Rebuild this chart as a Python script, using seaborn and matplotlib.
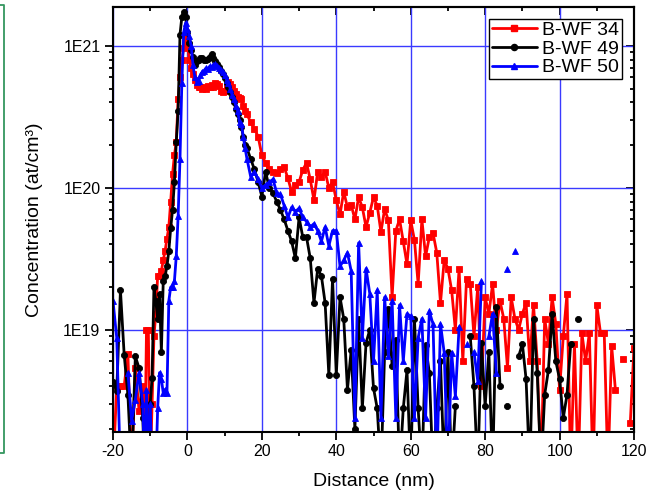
import numpy as np
import pandas as pd
import matplotlib
matplotlib.use("Agg")
import matplotlib.pyplot as plt
import seaborn as sns
from matplotlib.lines import Line2D
from matplotlib.ticker import MultipleLocator, LogLocator, FuncFormatter, NullFormatter

NA = float("nan")

# ---------------- data ----------------
depth = [
    -20, -19, -18, -17, -16, -15, -14, -13, -12,
    -11.5, -11, -10.5, -10, -9.5, -9, -8.5, -8, -7.5, -7,
    -6.5, -6, -5.5, -5, -4.5, -4, -3.5, -3, -2.5, -2,
    -1.5, -1, -0.5, 0, 0.5, 1, 1.5, 2, 2.5, 3,
    3.5, 4, 4.5, 5, 5.5, 6, 6.5, 7, 7.5, 8,
    8.5, 9, 9.5, 10, 10.5, 11, 11.5, 12, 12.5, 13,
    13.5, 14, 14.5, 15, 15.5, 16,
    17, 18, 19, 20, 21, 22, 23, 24, 25, 26,
    27, 28, 29, 30, 31, 32, 33, 34, 35, 36,
    37, 38, 39, 40, 41, 42, 43, 44, 45, 46,
    47, 48, 49, 50, 51, 52, 53, 54, 55, 56,
    57, 58, 59, 60, 61, 62, 63, 64, 65, 66,
    67, 68, 69, 70, 71, 72, 73, 74, 75, 76,
    77, 78, 79, 80, 81, 82, 83, 84, 85, 86,
    87, 88, 89, 90, 91, 92, 93, 94, 95, 96,
    97, 98, 99, 100, 101, 102, 103, 104, 105, 106,
    107, 108, 109, 110, 111, 112, 113, 114, 115, 116,
    117, 118, 119, 120,
]

bwf34 = [
    1e18, 4e18, 4e18, 4e18, 6.8e18, 1e18, 5.4e18, 2.7e18, 4e18,
    1e18, 1e19, 1e19, 1e18, 3e18, 9e18, 1.3e19, 2.4e19, 2.4e19, 2.6e19,
    3.1e19, 3.6e19, 4.4e19, 5.3e19, 8e19, 1.25e20, 1.7e20, 2.1e20, 4.2e20, 6e20,
    8e20, 9.6e20, 1.15e21, 1.05e21, 8e20, 7e20, 6.3e20, 5.8e20, 5.3e20, 5.1e20,
    5.1e20, 5.0e20, 5.1e20, 5.0e20, 5.2e20, 5.1e20, 5.3e20, 5.1e20, 5.5e20, 5.4e20,
    5.2e20, 4.8e20, 4.7e20, 4.8e20, 5.3e20, 5.6e20, 5.4e20, 5.1e20, 4.8e20, 4.6e20,
    4.4e20, 4.3e20, 4.2e20, 3.8e20, 3.5e20, 3.3e20,
    2.9e20, 2.6e20, 2.3e20, 1.7e20, 1.5e20, 1.35e20, 1.3e20, 1.28e20, 1.36e20, 1.4e20,
    1.17e20, 9.4e19, 1.05e20, 1.1e20, 1.34e20, 1.5e20, 1.15e20, 8.2e19, 1.3e20, 1.2e20,
    1.3e20, 1.0e20, 1.1e20, 8.2e19, 6.5e19, 9.4e19, 7.3e19, 7.6e19, 6.0e19, 8.6e19,
    7.3e19, 5.3e19, 6.7e19, 8.6e19, 7.5e19, 4.9e19, 7.1e19, 5.9e19, 1.7e19, 5.0e19,
    6.0e19, 4.2e19, 2.9e19, 5.9e19, 4.3e19, 2.1e19, 6.0e19, 3.3e19, 4.5e19, 4.8e19,
    3.5e19, 1.55e19, 3.1e19, 2.7e19, 1.9e19, 1.0e19, 2.7e19, 6.0e18, 2.3e19, 2.1e19,
    9.0e18, 2.0e19, 4.0e18, 1.7e19, 1.3e19, 2.1e19, 1.0e19, 1.6e19, 1.2e19, 5.4e18,
    1.7e19, 1.2e19, 1.0e19, 1.3e19, 1.55e19, 6.0e18, 1.5e19, 6.0e18, 1e18, 1.2e19,
    8.0e18, 1.7e19, 1.1e19, 3.8e18, 9.0e18, 1.8e19, 1e18, 8.0e18, 1e18, 9.5e18,
    6.0e18, 9.5e18, 1e18, 1.5e19, 9.5e18, 9.5e18, 1e18, 7.7e18, 3.8e18, NA,
    6.2e18, NA, 2.2e18, 7.5e18,
]

bwf49 = [
    4.3e18, 3.7e18, 1.9e19, 6.7e18, 3.5e18, 1e18, 6.5e18, 5.4e18, 2.4e18,
    1e18, 1e18, 1e18, 3e18, 4.6e18, 2e19, 1.6e19, 1.2e19, 1.8e19, 7e18,
    2.2e19, 2.4e19, 2.8e19, 3.6e19, 5.2e19, 7e19, 1.1e20, 2.1e20, 3.5e20, 1.2e21,
    1.6e21, 1.72e21, 1.6e21, 1.25e21, 1.05e21, 9.4e20, 8.3e20, 7.3e20, 7.8e20, 8.0e20,
    8.2e20, 8.2e20, 7.9e20, 8.0e20, 8.1e20, 8.4e20, 8.8e20, 8.2e20, 7.8e20, 7.5e20,
    7.1e20, 6.7e20, 6.3e20, 5.9e20, 5.5e20, 5.1e20, 4.7e20, 4.4e20, 4.0e20, 3.6e20,
    3.3e20, 3.0e20, 2.7e20, 2.3e20, 2.0e20, 1.9e20,
    1.6e20, 1.35e20, 1.1e20, 8.7e19, 1.3e20, 1.0e20, 9.2e19, 8.0e19, 7.0e19, 6.0e19,
    5.0e19, 4.2e19, 3.2e19, 6.2e19, 4.5e19, 4.5e19, 3.2e19, 1.55e19, 2.7e19, 2.4e19,
    1.55e19, 4.8e18, 2.3e19, 4.8e18, 1.7e19, 1.2e19, 3.8e18, 7.2e18, 2.0e18, 1.2e19,
    2.8e18, 8.1e18, 1.0e19, 3.9e18, 2.8e18, 1e18, 7.0e18, 1.4e19, 5.6e18, 8.5e18,
    1e18, 2.8e18, 5.2e18, 1e18, 1.2e19, 2.8e18, 1e18, 7.8e18, 5.0e18, 1e18,
    2.8e18, 6.0e18, 1e18, 7.0e18, 1e18, 2.9e18, NA, NA, NA, 9.0e18,
    4.0e18, 1e18, 8.1e18, 2.9e18, 7.0e18, 1e18, 1.45e19, 4.0e18, NA, 2.9e18,
    NA, NA, 6.5e18, 8.0e18, 4.5e18, 1e18, 1.2e19, 5.0e18, 1e18, 3.5e18,
    5.2e18, 1.3e19, 6.0e18, 4.5e18, 2.4e18, 3.5e18, 8.0e18, NA, 1.2e19, NA,
    NA, NA, NA, NA, NA, NA, NA, NA, NA, NA,
    NA, NA, NA, NA,
]

bwf50 = [
    1.6e19, 8.8e18, 1e18, NA, 5e18, 2.3e18, 3.2e18, 5e18, 3e18,
    1e18, 3.8e18, 1e18, 3.0e18, 1e18, NA, 1e18, 2.8e18, 5.0e18, 4.5e18,
    3.6e18, 3.8e18, 3.6e18, 1.6e19, 2.0e19, 2.0e19, 2.2e19, 3.3e19, 6.3e19, 1.6e20,
    5.5e20, 1.25e21, 1.45e21, 1.32e21, 1.18e21, 1.0e21, 7.3e20, 6.0e20, 5.6e20, 5.7e20,
    6.2e20, 6.6e20, 6.7e20, 7.0e20, 6.9e20, 7.2e20, 7.1e20, 7.3e20, 7.4e20, 7.2e20,
    7.0e20, 6.8e20, 6.6e20, 6.2e20, 5.8e20, 5.5e20, 5.0e20, 4.5e20, 4.2e20, 3.8e20,
    3.5e20, 2.9e20, 2.8e20, 2.3e20, 1.9e20, 1.6e20,
    1.2e20, 1.3e20, 1.15e20, 1.0e20, 1.05e20, 1.1e20, 1.15e20, 9.2e19, 9.0e19, 7.5e19,
    6.2e19, 7.3e19, 6.8e19, 7.2e19, 6.2e19, 5.8e19, 5.3e19, 5.6e19, 5.0e19, 4.2e19,
    5.3e19, 3.9e19, 5.0e19, 5.0e19, 2.8e19, 3.1e19, 3.5e19, 2.6e19, 2.4e18, 4.1e19,
    8.8e18, 2.7e19, 1.8e19, 6.0e18, 1.9e19, 2.4e18, 1.7e19, 6.5e18, 1.6e19, 2.4e18,
    1.5e19, 6.0e18, 1.3e19, 1.25e19, 2.4e18, 8.8e18, 1.2e19, 2.4e18, 1.35e19, 1.1e19,
    1e18, 1.1e19, 6.9e18, 1e18, 6.9e18, 3.4e18, 1.05e19, NA, 8.0e18, NA,
    7.0e18, 4.4e18, 2.2e19, NA, 9.0e18, 1.3e19, 5.0e18, NA, NA, 2.7e19,
    NA, 3.6e19, NA, NA, NA, NA, NA, NA, NA, NA,
    NA, NA, NA, NA, NA, NA, NA, NA, NA, NA,
    NA, NA, NA, NA, NA, NA, NA, NA, NA, NA,
    NA, NA, NA, NA,
]

series_names = ["B-WF 34", "B-WF 49", "B-WF 50"]

# ---------------- styling ----------------
sns.set_theme(style="ticks", rc={
    "axes.edgecolor": "black", "xtick.color": "black", "ytick.color": "black",
    "axes.labelcolor": "black", "text.color": "black",
})
plt.rcParams["font.family"] = ["Liberation Sans", "DejaVu Sans"]
plt.rcParams["axes.unicode_minus"] = False

fig = plt.figure(figsize=(6.6, 4.93), dpi=100)
fig.patch.set_facecolor("white")
ax = fig.add_axes([113 / 660, 1 - 432 / 493, 521 / 660, 425 / 493])
ax.set_yscale("log")

styles = [("#ff0000", "s"), ("#000000", "o"), ("#0000ff", "^")]
series = [bwf34, bwf49, bwf50]
for name, vals, (color, mk) in zip(series_names, series, styles):
    df = pd.DataFrame({"depth": depth, "conc": vals})
    df["seg"] = df["conc"].isna().cumsum()
    df = df.dropna()
    sns.lineplot(data=df, x="depth", y="conc", units="seg", estimator=None,
                 sort=False, color=color, marker=mk, markersize=4.4,
                 markeredgecolor=color, markeredgewidth=0.6, linewidth=2.0,
                 ax=ax, legend=False)

ax.set_xlim(-20, 120)
ax.set_ylim(1.91e18, 1.88e21)

ax.grid(True, which="major", color="#3a3aff", linewidth=1.0)
ax.set_axisbelow(True)

ax.xaxis.set_major_locator(MultipleLocator(20))
ax.xaxis.set_minor_locator(MultipleLocator(10))
ax.yaxis.set_major_locator(LogLocator(base=10, numticks=10))
ax.yaxis.set_minor_locator(LogLocator(base=10, subs=np.arange(2, 10), numticks=30))
ax.yaxis.set_minor_formatter(NullFormatter())
ax.yaxis.set_major_formatter(FuncFormatter(lambda v, p: f"1E{int(round(np.log10(v)))}"))

ax.tick_params(which="major", direction="out", length=5.5, width=1.3,
               labelsize=11.5, pad=3.5, top=False, right=False)
ax.tick_params(which="minor", direction="out", length=3.2, width=1.3,
               top=False, right=False)

for sp in ax.spines.values():
    sp.set_visible(True)
    sp.set_linewidth(1.5)
    sp.set_color("black")

# mirrored axes with inward ticks (top / right)
secx = ax.secondary_xaxis("top")
secx.xaxis.set_major_locator(MultipleLocator(20))
secx.xaxis.set_minor_locator(MultipleLocator(10))
secx.tick_params(which="major", direction="in", length=5.5, width=1.3, labeltop=False)
secx.tick_params(which="minor", direction="in", length=3.2, width=1.3)
secx.spines["top"].set_linewidth(1.5)

secy = ax.secondary_yaxis("right")
secy.yaxis.set_major_locator(LogLocator(base=10, numticks=10))
secy.yaxis.set_minor_locator(LogLocator(base=10, subs=np.arange(2, 10), numticks=30))
secy.yaxis.set_minor_formatter(NullFormatter())
secy.tick_params(which="major", direction="in", length=5.5, width=1.3, labelright=False)
secy.tick_params(which="minor", direction="in", length=3.2, width=1.3)
secy.spines["right"].set_linewidth(1.5)

ax.set_xlabel("Distance (nm)", fontsize=14)
ax.set_ylabel("Concentration (at/cm³)", fontsize=14)
ax.xaxis.set_label_coords(0.5, -0.097)
ax.yaxis.set_label_coords(-0.134, 0.5)

handles = [Line2D([], [], color=c, marker=m, markersize=4.4, markeredgecolor=c,
                  linewidth=2.0) for c, m in styles]
leg = ax.legend(handles, series_names, loc="upper right", fontsize=14,
                frameon=True, fancybox=False, edgecolor="black", framealpha=1,
                borderpad=0.15, labelspacing=0.05, handlelength=2.3,
                handletextpad=0.3, borderaxespad=0.6, numpoints=1)
leg.get_frame().set_linewidth(1.0)

# partial green frame at the left edge of the picture
fig.add_artist(Line2D([0, 3.5 / 660, 3.5 / 660, 0],
                      [1 - 5 / 493, 1 - 5 / 493, 1 - 453 / 493, 1 - 453 / 493],
                      transform=fig.transFigure, color="#34965f", linewidth=1.3))

fig.savefig("out.png", dpi=100)
